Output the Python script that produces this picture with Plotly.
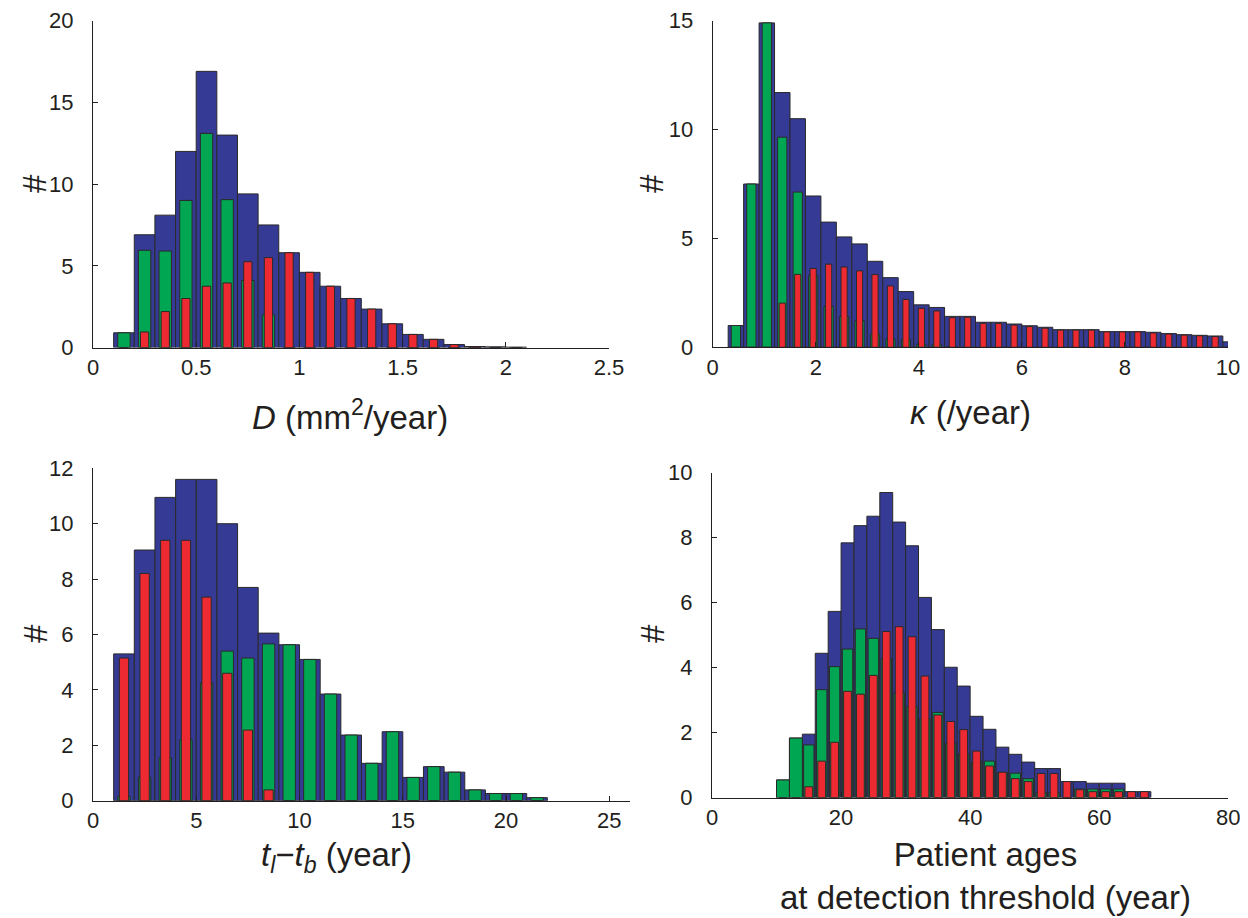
import plotly.graph_objects as go

# The page places the figure 8 px from its top-left corner (default body margin),
# so the figure is made 8 px smaller and every position is shifted by that margin.
PAGE_OFF = 8
W, H = 1248 - PAGE_OFF, 918 - PAGE_OFF

# ---------------- data ----------------
# Panel A: D (mm^2/year), bins of width 0.1 starting at 0.1
D_centers = [0.15, 0.25, 0.35, 0.45, 0.55, 0.65, 0.75, 0.85, 0.95, 1.05,
             1.15, 1.25, 1.35, 1.45, 1.55, 1.65, 1.75, 1.85, 1.95, 2.05]
D_total = [0.9, 6.9, 8.1, 12.0, 16.9, 13.0, 9.4, 7.5, 5.8, 4.6,
           3.75, 3.0, 2.35, 1.45, 0.8, 0.5, 0.18, 0.06, 0.04, 0.02]
D_green = [0.9, 5.95, 5.9, 9.0, 13.1, 9.05, 4.1, 2.0, 0, 0,
           0, 0, 0, 0, 0, 0, 0, 0, 0, 0]
D_red = [0, 0.95, 2.2, 3.0, 3.75, 3.95, 5.25, 5.5, 5.8, 4.6,
         3.75, 3.0, 2.35, 1.45, 0.8, 0.5, 0.18, 0.05, 0, 0]

# Panel B: kappa (/year), bins of width 0.3 starting at 0.3
K_centers = [0.45, 0.75, 1.05, 1.35, 1.65, 1.95, 2.25, 2.55, 2.85, 3.15,
             3.45, 3.75, 4.05, 4.35, 4.65, 4.95, 5.25, 5.55, 5.85, 6.15,
             6.45, 6.75, 7.05, 7.35, 7.65, 7.95, 8.25, 8.55, 8.85, 9.15,
             9.45, 9.75, 10.05]
K_total = [1.0, 7.5, 14.9, 11.7, 10.5, 6.95, 5.75, 5.07, 4.75, 3.95,
           3.2, 2.56, 1.95, 1.83, 1.42, 1.42, 1.15, 1.15, 1.07, 0.99,
           0.92, 0.81, 0.81, 0.81, 0.72, 0.72, 0.72, 0.69, 0.63, 0.58,
           0.55, 0.52, 0.25]
K_green = [1.0, 7.5, 14.9, 9.65, 7.13, 3.3, 1.88, 1.42, 1.22, 0.61,
           0.37, 0.37, 0.14, 0.14, 0.03, 0, 0, 0, 0, 0,
           0, 0, 0, 0, 0, 0, 0, 0, 0, 0,
           0, 0, 0]
K_red = [0, 0, 0, 2.03, 3.35, 3.62, 3.82, 3.69, 3.51, 3.34,
         2.82, 2.2, 1.79, 1.67, 1.36, 1.38, 1.1, 1.1, 1.02, 0.95,
         0.88, 0.79, 0.79, 0.79, 0.71, 0.71, 0.71, 0.66, 0.61, 0.56,
         0.53, 0.49, 0.0]

# Panel C: t_l - t_b (year), bins of width 1 starting at 1
T_centers = [1.5, 2.5, 3.5, 4.5, 5.5, 6.5, 7.5, 8.5, 9.5, 10.5, 11.5,
             12.5, 13.5, 14.5, 15.5, 16.5, 17.5, 18.5, 19.5, 20.5, 21.5]
T_total = [5.3, 9.05, 10.95, 11.6, 11.6, 10.0, 7.7, 6.05, 5.63, 5.1, 3.85,
           2.37, 1.35, 2.49, 0.84, 1.23, 1.03, 0.39, 0.26, 0.26, 0.11]
T_green = [0.15, 0.85, 1.55, 2.2, 4.25, 5.4, 5.15, 5.66, 5.63, 5.1, 3.85,
           2.37, 1.35, 2.49, 0.84, 1.23, 1.03, 0.39, 0.26, 0.26, 0.11]
T_red = [5.15, 8.2, 9.4, 9.4, 7.35, 4.6, 2.55, 0.39, 0, 0, 0,
         0, 0, 0, 0, 0, 0, 0, 0, 0, 0]

# Panel D: patient ages at detection threshold (year), bins of width 2 from 10
A_centers = [11, 13, 15, 17, 19, 21, 23, 25, 27, 29, 31, 33, 35, 37, 39,
             41, 43, 45, 47, 49, 51, 53, 55, 57, 59, 61, 63, 65, 67]
A_total = [0.54, 1.83, 1.95, 4.44, 5.73, 7.84, 8.37, 8.66, 9.39, 8.48,
           7.75, 6.16, 5.17, 4.01, 3.43, 2.50, 2.10, 1.55, 1.33, 1.09,
           0.89, 0.89, 0.49, 0.49, 0.44, 0.44, 0.44, 0.18, 0.18]
A_green = [0.54, 1.83, 1.62, 3.32, 4.03, 4.57, 5.19, 4.9, 4.28, 3.22,
           2.8, 2.42, 2.62, 1.67, 1.34, 1.1, 1.12, 0.77, 0.75, 0.58,
           0.15, 0.15, 0, 0.26, 0.26, 0.26, 0.26, 0, 0]
A_red = [0, 0, 0.33, 1.12, 1.7, 3.27, 3.18, 3.76, 5.11, 5.26,
         4.95, 3.74, 2.54, 2.34, 2.09, 1.43, 0.97, 0.78, 0.58, 0.49,
         0.74, 0.74, 0.49, 0.24, 0.18, 0.18, 0.18, 0.18, 0.18]

# ---------------- styling ----------------
BLUE = "#353a94"
GREEN = "#00a651"
RED = "#ed2a31"
EDGE = "#2a2a2a"
INK = "#231f20"
FONT = "Liberation Sans, Arial, Helvetica, sans-serif"


def fx(px):
    return (px - PAGE_OFF) / W


def fy(py):
    return 1 - (py - PAGE_OFF) / H


panels = [
    dict(c=D_centers, t=D_total, g=D_green, r=D_red, bw=0.1, gf=0.6, rf=0.4,
         xr=[0, 2.5], yr=[0, 20], xt=[0, 0.5, 1, 1.5, 2, 2.5], yt=[0, 5, 10, 15, 20],
         xp=(93, 609), yp=(20.7, 347.5)),
    dict(c=K_centers, t=K_total, g=K_green, r=K_red, bw=0.3, gf=0.6, rf=0.4,
         xr=[0, 10], yr=[0, 15], xt=[0, 2, 4, 6, 8, 10], yt=[0, 5, 10, 15],
         xp=(712.7, 1228), yp=(20.7, 347.3)),
    dict(c=T_centers, t=T_total, g=T_green, r=T_red, bw=1.0, gf=0.6, rf=0.45,
         xr=[0, 26], yr=[0, 12], xt=[0, 5, 10, 15, 20, 25], yt=[0, 2, 4, 6, 8, 10, 12],
         xp=(93, 630), yp=(468.3, 800.7)),
    dict(c=A_centers, t=A_total, g=A_green, r=A_red, bw=2.0, gf=0.8, rf=0.6,
         xr=[0, 80], yr=[0, 10], xt=[0, 20, 40, 60, 80], yt=[0, 2, 4, 6, 8, 10],
         xp=(712, 1228.3), yp=(472.7, 797.5)),
]

fig = go.Figure()
layout = dict(
    template="none",
    width=W, height=H, margin=dict(l=0, r=0, t=0, b=0, pad=0),
    paper_bgcolor="white", plot_bgcolor="white",
    barmode="overlay", showlegend=False,
    font=dict(family=FONT, color=INK, size=22),
)

for i, p in enumerate(panels):
    n = i + 1
    xa = "x" if n == 1 else f"x{n}"
    ya = "y" if n == 1 else f"y{n}"
    for vals, frac, col in ((p["t"], 1.0, BLUE), (p["g"], p["gf"], GREEN), (p["r"], p["rf"], RED)):
        widths = [p["bw"] * frac] * len(vals)
        if i == 3 and col == GREEN:
            # the first two green bars in the age panel fill the whole bin
            widths[0] = p["bw"]
            widths[1] = p["bw"]
        fig.add_trace(go.Bar(
            x=p["c"], y=vals, width=widths, xaxis=xa, yaxis=ya,
            marker=dict(color=col, line=dict(color=EDGE, width=1)),
            hoverinfo="skip",
        ))
    axcommon = dict(showgrid=False, zeroline=False, showline=True, linecolor=INK,
                    linewidth=1.2, ticks="inside", ticklen=5, tickwidth=1,
                    tickcolor=INK, mirror=False, automargin=False,
                    tickfont=dict(family=FONT, size=22, color=INK))
    layout["xaxis" if n == 1 else f"xaxis{n}"] = dict(
        axcommon, domain=[fx(p["xp"][0]), fx(p["xp"][1])], range=p["xr"],
        tickvals=p["xt"], ticktext=[f"{v:g}" for v in p["xt"]],
        anchor=ya, ticklabelstandoff=0)
    layout["yaxis" if n == 1 else f"yaxis{n}"] = dict(
        axcommon, domain=[fy(p["yp"][1]), fy(p["yp"][0])], range=p["yr"],
        tickvals=p["yt"], anchor=xa, ticklabelstandoff=14)

fig.update_layout(**layout)

title_font = dict(family=FONT, size=33, color=INK)
ann = [
    ("<i>D</i> (mm<sup>2</sup>/year)", 350, 415, 0),
    ("<i>κ</i> (/year)", 970, 412, 0),
    ("<i>t</i><sub><i>l</i></sub>−<i>t</i><sub><i>b</i></sub> (year)", 336, 857, 0),
    ("Patient ages<br>at detection threshold (year)", 985, 876, 0),
    ("#", 35, 184, -90),
    ("#", 652, 184, -90),
    ("#", 35, 634, -90),
    ("#", 652, 634, -90),
]
for text, x, y, ang in ann:
    fig.add_annotation(text=text, x=fx(x), y=fy(y), xref="paper", yref="paper",
                       showarrow=False, xanchor="center", yanchor="middle",
                       textangle=ang, font=title_font)

fig.write_html("out.html")
